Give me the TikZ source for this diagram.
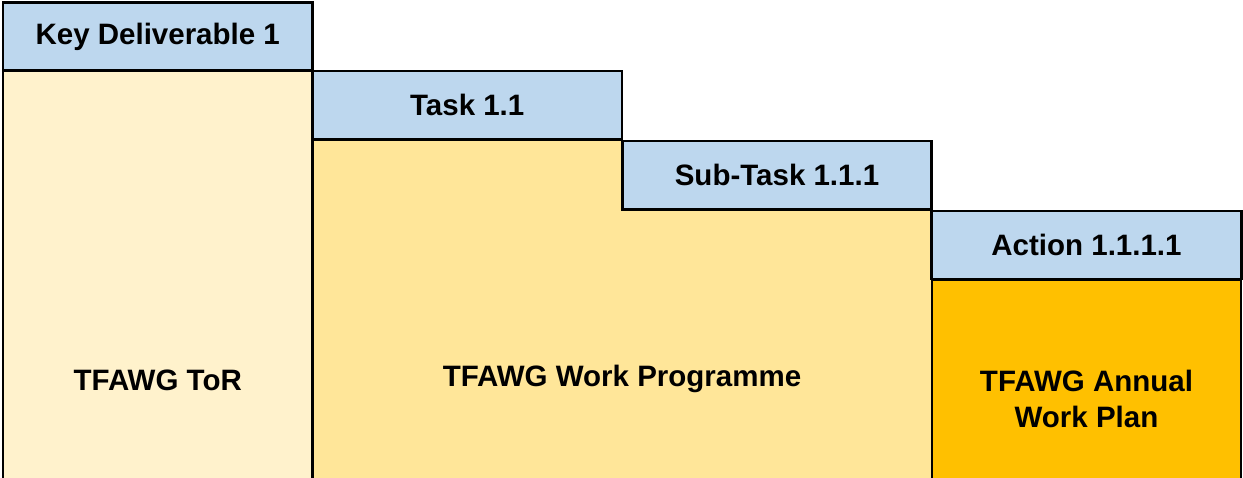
\documentclass[tikz,border=0pt]{standalone}
\usepackage{fontspec}
\setmainfont{Liberation Sans}
\definecolor{hdrblue}{HTML}{BDD7EE}
\definecolor{torfill}{HTML}{FFF2CC}
\definecolor{progfill}{HTML}{FFE699}
\definecolor{planfill}{HTML}{FFC000}
\begin{document}
\begin{tikzpicture}[x=1pt,y=-1pt,
  edge/.style={draw=black,line width=2.6pt},
  hdr/.style={edge,fill=hdrblue,rectangle,inner sep=0pt,
    minimum width=309.5pt,minimum height=68pt,
    font=\fontsize{29.5}{34}\selectfont\bfseries},
  lbl/.style={font=\fontsize{29.5}{36}\selectfont\bfseries,align=center,inner sep=0pt}]
\useasboundingbox (0,0) rectangle (1243,477);
\clip (0,0) rectangle (1243,477);
% document bodies beneath each heading
\path[edge,fill=torfill] (3,70) rectangle (312.5,495);
\path[edge,fill=progfill] (312.5,140) -- (622,140) -- (622,210) -- (932,210)
  -- (932,495) -- (312.5,495) -- cycle;
\path[edge,fill=planfill] (932,280) rectangle (1241,495);
% headings
\node[hdr] (kd)  at (157.75,36.5)  {Key Deliverable 1};
\node[hdr] (tsk) at (467.25,105)   {Task 1.1};
\node[hdr] (sub) at (777,175)      {Sub-Task 1.1.1};
\node[hdr] (act) at (1086.5,245)   {Action 1.1.1.1};
% body labels
\node[lbl] (tor)  at (157.75,380) {TFAWG ToR};
\node[lbl] (prog) at (622,379)    {TFAWG Work Programme};
\node[lbl] (plan) at (1086.5,399) {TFAWG Annual\\Work Plan};
\end{tikzpicture}
\end{document}
